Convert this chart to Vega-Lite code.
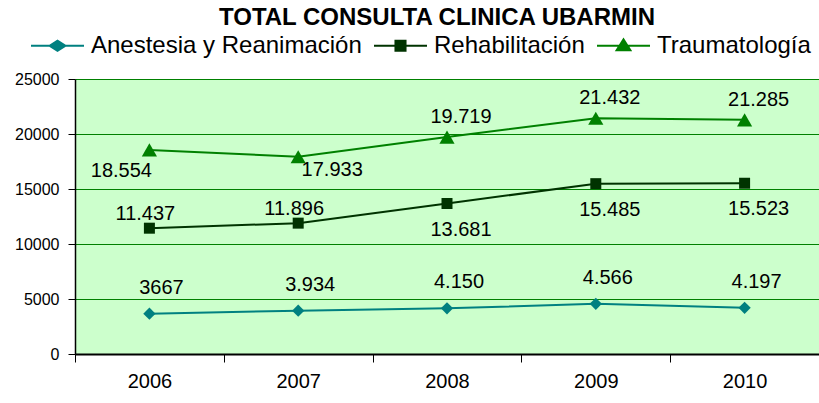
{
  "$schema": "https://vega.github.io/schema/vega-lite/v6.json",
  "autosize": "none",
  "width": 744,
  "height": 275,
  "padding": {"left": 75, "top": 79, "right": 0, "bottom": 49},
  "background": "white",
  "title": {
    "text": "TOTAL CONSULTA CLINICA UBARMIN",
    "font": "Liberation Sans",
    "fontSize": 24,
    "fontWeight": "bold",
    "color": "black",
    "anchor": "middle",
    "frame": "group",
    "dx": -10,
    "offset": -12
  },
  "data": {
    "values": [
      {"series": "Anestesia y Reanimación", "year": 2006, "value": 3667, "label": "3667"},
      {"series": "Anestesia y Reanimación", "year": 2007, "value": 3934, "label": "3.934"},
      {"series": "Anestesia y Reanimación", "year": 2008, "value": 4150, "label": "4.150"},
      {"series": "Anestesia y Reanimación", "year": 2009, "value": 4566, "label": "4.566"},
      {"series": "Anestesia y Reanimación", "year": 2010, "value": 4197, "label": "4.197"},
      {"series": "Rehabilitación", "year": 2006, "value": 11437, "label": "11.437"},
      {"series": "Rehabilitación", "year": 2007, "value": 11896, "label": "11.896"},
      {"series": "Rehabilitación", "year": 2008, "value": 13681, "label": "13.681"},
      {"series": "Rehabilitación", "year": 2009, "value": 15485, "label": "15.485"},
      {"series": "Rehabilitación", "year": 2010, "value": 15523, "label": "15.523"},
      {"series": "Traumatología", "year": 2006, "value": 18554, "label": "18.554"},
      {"series": "Traumatología", "year": 2007, "value": 17933, "label": "17.933"},
      {"series": "Traumatología", "year": 2008, "value": 19719, "label": "19.719"},
      {"series": "Traumatología", "year": 2009, "value": 21432, "label": "21.432"},
      {"series": "Traumatología", "year": 2010, "value": 21285, "label": "21.285"}
    ]
  },
  "encoding": {
    "x": {
      "field": "year",
      "type": "ordinal",
      "scale": {"type": "band", "paddingInner": 0, "paddingOuter": 0},
      "axis": {
        "title": null,
        "labelAngle": 0,
        "labelFont": "Liberation Sans",
        "labelFontSize": 20,
        "labelColor": "black",
        "labelPadding": 9,
        "tickBand": "extent",
        "tickSize": 8,
        "tickColor": "black",
        "domainColor": "black",
        "domainWidth": 2,
        "grid": false
      }
    },
    "y": {
      "field": "value",
      "type": "quantitative",
      "scale": {"domain": [0, 25000], "nice": false},
      "axis": {
        "title": null,
        "values": [0, 5000, 10000, 15000, 20000, 25000],
        "format": "d",
        "labelFont": "Liberation Sans",
        "labelFontSize": 16,
        "labelColor": "black",
        "labelPadding": 9,
        "tickSize": 7,
        "tickColor": "black",
        "domainColor": "black",
        "domainWidth": 1.5,
        "grid": true,
        "gridColor": "#008000",
        "gridWidth": 1,
        "gridOpacity": 1
      }
    }
  },
  "layer": [
    {
      "mark": {"type": "line", "strokeWidth": 2},
      "encoding": {
        "color": {
          "field": "series",
          "type": "nominal",
          "scale": {
            "domain": ["Anestesia y Reanimación", "Rehabilitación", "Traumatología"],
            "range": ["#008080", "#003300", "#008000"]
          },
          "legend": {
            "title": null,
            "orient": "none",
            "legendX": -45,
            "legendY": -61,
            "direction": "horizontal",
            "columns": 3,
            "labelFont": "Liberation Sans",
            "labelFontSize": 24,
            "labelColor": "black",
            "labelLimit": 400,
            "labelOffset": 6,
            "columnPadding": 8,
            "symbolSize": 2809,
            "symbolStrokeWidth": 2,
            "encode": {
              "symbols": {
                "update": {
                  "shape": {"signal": "datum.value === 'Rehabilitación' ? 'M-1,0H1M-0.19,-0.19H0.19V0.19H-0.19Z' : datum.value === 'Traumatología' ? 'M-1,0H1M-0.26,0.17L0,-0.24L0.26,0.17Z' : 'M-1,0H1M-0.3,0L0,-0.19L0.3,0L0,0.19Z'"},
                  "fill": {"signal": "scale('color', datum.value)"},
                  "stroke": {"signal": "scale('color', datum.value)"},
                  "strokeWidth": {"value": 2},
                  "opacity": {"value": 1},
                  "size": {"value": 2809}
                }
              }
            }
          }
        }
      }
    },
    {
      "transform": [{"filter": "datum.series === 'Anestesia y Reanimación'"}],
      "mark": {"type": "point", "filled": true, "opacity": 1, "shape": "diamond", "size": 150, "color": "#008080"}
    },
    {
      "transform": [{"filter": "datum.series === 'Rehabilitación'"}],
      "mark": {"type": "point", "filled": true, "opacity": 1, "shape": "square", "size": 121, "color": "#003300"}
    },
    {
      "transform": [{"filter": "datum.series === 'Traumatología'"}],
      "mark": {"type": "point", "filled": true, "opacity": 1, "shape": "triangle-up", "size": 230, "color": "#008000"}
    },
    {
      "transform": [{"filter": "datum.series === 'Anestesia y Reanimación'"}],
      "mark": {"type": "text", "font": "Liberation Sans", "fontSize": 20, "color": "black", "baseline": "middle", "dx": 12, "dy": -26},
      "encoding": {"text": {"field": "label"}}
    },
    {
      "transform": [{"filter": "datum.series === 'Rehabilitación' && datum.year <= 2007"}],
      "mark": {"type": "text", "font": "Liberation Sans", "fontSize": 20, "color": "black", "baseline": "middle", "dx": -4, "dy": -14},
      "encoding": {"text": {"field": "label"}}
    },
    {
      "transform": [{"filter": "datum.series === 'Rehabilitación' && datum.year >= 2008"}],
      "mark": {"type": "text", "font": "Liberation Sans", "fontSize": 20, "color": "black", "baseline": "middle", "dx": 14, "dy": 26},
      "encoding": {"text": {"field": "label"}}
    },
    {
      "transform": [{"filter": "datum.series === 'Traumatología' && datum.year >= 2008"}],
      "mark": {"type": "text", "font": "Liberation Sans", "fontSize": 20, "color": "black", "baseline": "middle", "dx": 14, "dy": -20},
      "encoding": {"text": {"field": "label"}}
    },
    {
      "transform": [{"filter": "datum.series === 'Traumatología' && datum.year === 2006"}],
      "mark": {"type": "text", "font": "Liberation Sans", "fontSize": 20, "color": "black", "baseline": "middle", "dx": -28, "dy": 21},
      "encoding": {"text": {"field": "label"}}
    },
    {
      "transform": [{"filter": "datum.series === 'Traumatología' && datum.year === 2007"}],
      "mark": {"type": "text", "font": "Liberation Sans", "fontSize": 20, "color": "black", "baseline": "middle", "dx": 34, "dy": 13},
      "encoding": {"text": {"field": "label"}}
    }
  ],
  "config": {
    "view": {"fill": "#CCFFCC", "stroke": null}
  }
}
